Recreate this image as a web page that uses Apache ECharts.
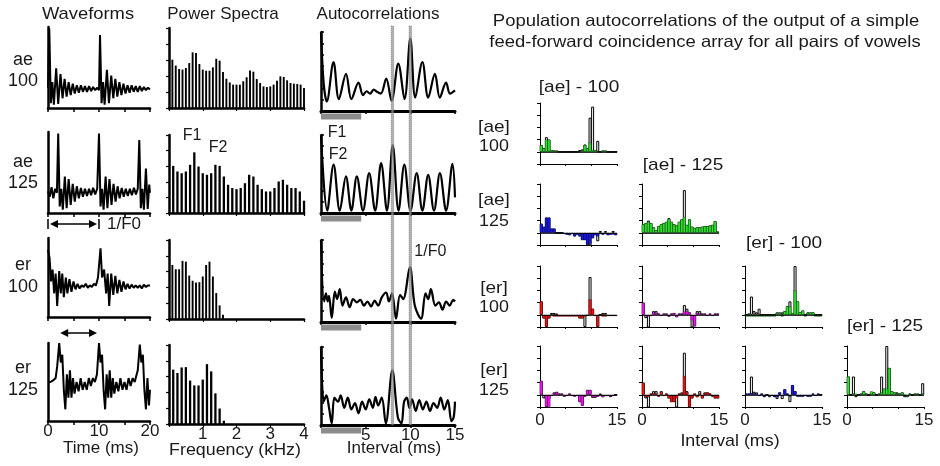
<!DOCTYPE html>
<html>
<head>
<meta charset="utf-8">
<script src="https://cdn.jsdelivr.net/npm/echarts@6/dist/echarts.min.js"></script>
<style>
html,body{margin:0;padding:0;background:#fff}
#main{width:940px;height:466px}
</style>
</head>
<body>
<div id="main"></div>
<script>
// ---------- data ----------
var rowVowels = ['ae', 'ae', 'er', 'er'];
var rowF0 = [100, 125, 100, 125];

// waveforms: [time ms, amplitude 0..1]
var wave_ae100 = [[0,0.25],[0.25,0.98],[0.55,0.06],[0.85,0.32],[1.15,0.04],[1.6,0.49],[2.0,0.05],[2.45,0.42],[2.85,0.12],[3.25,0.36],[3.65,0.14],[4.05,0.32],[4.45,0.16],[4.85,0.3],[5.25,0.18],[5.65,0.28],[6.05,0.19],[6.45,0.28],[6.85,0.2],[7.25,0.27],[7.65,0.2],[8.05,0.27],[8.45,0.21],[8.85,0.26],[9.25,0.22],[9.65,0.25],[10.0,0.22],[10.2,0.9],[10.5,0.06],[10.8,0.32],[11.1,0.04],[11.55,0.47],[11.95,0.06],[12.4,0.4],[12.8,0.12],[13.2,0.36],[13.6,0.14],[14.0,0.32],[14.4,0.16],[14.8,0.3],[15.2,0.18],[15.6,0.28],[16.0,0.19],[16.4,0.28],[16.8,0.2],[17.2,0.27],[17.6,0.2],[18.0,0.27],[18.4,0.21],[18.8,0.26],[19.2,0.22],[19.6,0.25],[20,0.23]];
var wave_ae125 = [[0,0.27],[0.35,0.2],[0.7,0.32],[1.05,0.18],[1.4,0.3],[1.75,0.25],[2.0,0.98],[2.3,0.08],[2.6,0.3],[2.9,0.04],[3.3,0.45],[3.65,0.06],[4.05,0.42],[4.45,0.1],[4.85,0.36],[5.25,0.14],[5.65,0.33],[6.05,0.18],[6.45,0.31],[6.85,0.2],[7.25,0.3],[7.65,0.21],[8.05,0.3],[8.45,0.22],[8.85,0.31],[9.25,0.23],[9.65,0.3],[10.0,0.98],[10.3,0.08],[10.6,0.3],[10.9,0.04],[11.3,0.45],[11.65,0.06],[12.05,0.42],[12.45,0.1],[12.85,0.36],[13.25,0.14],[13.65,0.33],[14.05,0.18],[14.45,0.31],[14.85,0.2],[15.25,0.3],[15.65,0.21],[16.05,0.3],[16.45,0.22],[16.85,0.31],[17.25,0.23],[17.6,0.3],[17.9,0.9],[18.2,0.06],[18.5,0.3],[18.8,0.04],[19.2,0.55],[19.55,0.05],[19.85,0.35],[20,0.25]];
var wave_er100 = [[0,0.85],[0.3,0.75],[0.6,0.45],[0.9,0.6],[1.2,0.3],[1.5,0.55],[1.8,0.14],[2.2,0.58],[2.5,0.3],[2.8,0.55],[3.1,0.25],[3.5,0.5],[3.8,0.3],[4.2,0.48],[4.6,0.32],[5.0,0.45],[5.4,0.35],[5.8,0.42],[6.2,0.36],[6.6,0.4],[7.0,0.38],[7.4,0.42],[7.8,0.37],[8.2,0.4],[8.6,0.38],[9.0,0.42],[9.4,0.4],[9.8,0.5],[10.3,0.87],[10.6,0.5],[11.0,0.6],[11.4,0.3],[11.7,0.55],[12.0,0.14],[12.4,0.55],[12.8,0.28],[13.2,0.52],[13.6,0.3],[14.0,0.47],[14.4,0.32],[14.8,0.45],[15.2,0.35],[15.6,0.42],[16.0,0.36],[16.4,0.41],[16.8,0.37],[17.2,0.4],[17.6,0.37],[18.0,0.4],[18.4,0.36],[18.8,0.41],[19.2,0.38],[19.6,0.4],[20,0.4]];
var wave_er125 = [[0,0.5],[0.5,0.5],[1.0,0.52],[1.5,0.55],[1.8,0.7],[2.2,1.0],[2.5,0.75],[2.8,0.85],[3.1,0.4],[3.4,0.15],[3.7,0.6],[4.0,0.3],[4.3,0.65],[4.6,0.3],[4.9,0.55],[5.2,0.35],[5.6,0.5],[6.0,0.38],[6.4,0.55],[6.8,0.4],[7.2,0.5],[7.6,0.4],[8.0,0.55],[8.4,0.45],[8.8,0.55],[9.2,0.5],[9.6,0.6],[10.0,1.0],[10.3,0.75],[10.6,0.85],[10.9,0.4],[11.2,0.15],[11.5,0.6],[11.8,0.3],[12.1,0.65],[12.4,0.3],[12.7,0.55],[13.0,0.35],[13.4,0.5],[13.8,0.38],[14.2,0.55],[14.6,0.4],[15.0,0.5],[15.4,0.4],[15.8,0.55],[16.2,0.45],[16.6,0.55],[17.0,0.5],[17.6,0.65],[18.0,0.98],[18.3,0.75],[18.6,0.85],[18.9,0.4],[19.2,0.15],[19.5,0.55],[19.8,0.2],[20,0.4]];

// power spectra: level of each harmonic (k = 1, 2, ...)
var spec_ae100 = [30.2,26.5,24.4,24,25,28.1,34.8,34.4,27.5,24,23.3,23.3,25.4,30.8,29.6,22.5,18.3,16,14.6,14.6,14.6,16.7,19.2,23.5,22.7,18.1,15.6,13.5,13.1,13.5,14.6,17.1,19.8,19.4,17.3,15.6,15.2,15,14.6,12.5];
var spec_ae125 = [30.2,26.6,25.5,26.6,30.9,38.9,29.8,25.5,24.5,25.5,30.9,30.2,23.4,18.1,16,15.3,16,19.1,24.5,23.4,18.1,15.3,13.8,13.8,16,20.2,21.3,18.1,16,16,13.8,7.9];
var spec_er100 = [34.2,31.5,31.5,36.8,36.3,27.5,24.2,23.1,23.3,26.9,34.2,36.3,26.9,16.4,8.6,2.7];
var spec_er125 = [34.4,32.3,35.8,36,27.5,24.4,24.4,28.1,37.9,33.3,19.4,9.8,2.1];

// autocorrelations: [lag ms, value 0..1]
var ac_ae100 = [[0,1.0],[0.3,0.35],[0.65,0.12],[1.4,0.62],[2.0,0.15],[2.8,0.47],[3.4,0.15],[4.2,0.36],[4.7,0.2],[5.1,0.25],[5.5,0.22],[5.9,0.27],[6.3,0.24],[6.7,0.22],[7.3,0.41],[7.9,0.13],[8.65,0.6],[9.35,0.15],[10.0,0.92],[10.55,0.17],[11.35,0.62],[12.0,0.17],[12.75,0.47],[13.3,0.17],[14.0,0.36],[14.45,0.22],[15,0.26]];
var ac_ae125 = [[0,1.0],[0.7,0.03],[1.41,0.62],[2.1,0.03],[2.79,0.47],[3.4,0.03],[4.01,0.47],[4.7,0.03],[5.39,0.51],[6.06,0.03],[6.73,0.64],[7.38,0.03],[8.03,0.87],[8.68,0.03],[9.33,0.62],[10.02,0.03],[10.71,0.51],[11.35,0.03],[12.0,0.49],[12.65,0.03],[13.31,0.51],[14.0,0.03],[14.72,0.63],[15,0.2]];
var ac_er100 = [[0,1.0],[0.35,0.25],[0.55,0.35],[0.75,0.25],[0.9,0.32],[1.2,0.05],[1.55,0.37],[1.8,0.28],[2.1,0.4],[2.4,0.2],[2.8,0.3],[3.2,0.18],[3.6,0.28],[4.0,0.24],[4.4,0.27],[4.8,0.2],[5.2,0.25],[5.6,0.19],[6.0,0.26],[6.4,0.2],[6.8,0.3],[7.3,0.36],[7.6,0.25],[7.95,0.35],[8.4,0.04],[8.85,0.33],[9.2,0.28],[9.95,0.67],[10.5,0.2],[11.2,0.04],[11.7,0.35],[12.0,0.28],[12.3,0.4],[12.8,0.2],[13.2,0.24],[13.6,0.15],[14.0,0.25],[14.4,0.2],[14.8,0.27],[15,0.25]];
var ac_er125 = [[0,1.0],[0.3,0.3],[0.6,0.38],[0.9,0.22],[1.2,0.02],[1.5,0.35],[1.9,0.3],[2.2,0.38],[2.6,0.22],[3.0,0.35],[3.4,0.2],[3.8,0.28],[4.2,0.15],[4.6,0.3],[5.0,0.2],[5.4,0.33],[5.8,0.22],[6.1,0.36],[6.4,0.25],[6.8,0.35],[7.25,0.02],[7.98,0.7],[8.6,0.1],[9.0,0.02],[9.3,0.3],[9.6,0.35],[9.9,0.22],[10.2,0.33],[10.6,0.18],[11.0,0.32],[11.4,0.2],[11.8,0.3],[12.2,0.18],[12.6,0.28],[13.0,0.22],[13.4,0.35],[13.8,0.2],[14.2,0.32],[14.6,0.05],[14.85,0.1],[15,0.3]];

var markedLags = [8, 10];      // 1/F0 of 125 Hz and 100 Hz
var shadedLags = [0, 4.5];

// population histograms, 0.5 ms bins from 0 to 15 ms
var binWidthMs = 0.5;
var h_ae100_ae100 = [0.55,0.28,1.0,1.0,0.15,0.1,0.1,0,0,0,0,0,0,0,0,0,0.1,0.55,0.3,0.75,0.15,0.15,0,0,0.1,0.1,0,0,0,0];
var h_ae100_ae100_all = [0.55,0.3,1.2,1.0,0.15,0.1,0.1,0,0,0,0,0,0,0,0,0.15,0.2,0.6,0.3,2.8,3.7,0.15,0.9,0,0.1,0.1,0,0,0,0];
var h_ae125_ae100 = [0.75,0.5,1.25,1.25,0.35,0.35,0,0,0,-0.1,-0.15,-0.2,-0.1,-0.3,-0.15,-0.3,-0.6,-0.6,-1.0,-0.9,-0.45,-0.2,-0.3,-0.1,-0.15,-0.1,-0.2,-0.15,-0.15,-0.2];
var h_ae125_ae100_all = [0.75,0.5,1.25,1.25,0.35,0.35,0,0,0,-0.1,-0.15,-0.2,-0.1,-0.3,-0.15,-0.3,-0.6,-0.6,-1.0,-1.35,-0.45,-0.2,-0.7,0.15,-0.15,0.15,-0.2,-0.15,0.15,-0.2];
var h_er100_ae100 = [1.1,-0.3,-1.0,-0.3,0,-0.15,-0.15,-0.15,-0.15,-0.15,-0.15,-0.15,-0.15,-0.15,-0.15,-0.3,-0.3,-0.15,0,1.27,0.5,-0.1,-1.0,0,-0.15,-0.15,-0.1,-0.1,-0.1,-0.1];
var h_er100_ae100_all = [1.1,-0.3,-1.0,-0.3,0.15,0.15,0.1,-0.1,-0.1,-0.1,-0.1,-0.1,-0.1,-0.1,-0.1,-0.3,-0.3,-1.0,-0.1,3.1,0.5,-0.1,-1.0,0,0.15,0.15,-0.1,-0.1,-0.1,-0.1];
var h_er125_ae100 = [1.15,-0.1,-1.0,-1.0,-0.1,0.15,0.2,0.1,0.1,-0.15,-0.1,0.1,-0.1,-0.15,-0.1,-0.6,-0.9,-0.15,0.4,0.4,-0.2,-0.2,-0.15,0,-0.2,-0.1,-0.1,-0.15,-0.1,0];
var h_er125_ae100_all = [1.15,-0.3,-1.0,-0.4,-0.1,0.2,0.25,0.1,0.1,-0.15,-0.1,0.1,-0.1,-0.15,-0.1,-0.6,-0.9,-0.15,0.4,0.4,-0.25,-0.25,-0.15,0.1,-0.2,-0.1,-0.1,-0.2,-0.1,0];
var h_ae125_ae125 = [0.7,0.8,0.9,0.8,0.45,0.2,0.55,0.7,0.8,0.9,1.15,0.9,0.7,0.6,0.9,1.1,1.3,0.65,1.1,0.5,0.4,0.45,0.45,0.5,0.55,0.55,0.6,0.65,0.95,0.1];
var h_ae125_ae125_all = [0.7,0.8,1.0,0.8,0.45,0.2,0.55,0.7,0.8,0.9,1.2,0.9,0.7,0.6,0.9,1.1,3.5,0.65,1.1,0.5,0.4,0.45,0.45,0.5,0.55,0.55,0.6,0.65,0.95,0.1];
var h_er100_ae125 = [1.0,-0.1,-0.15,-0.1,0.2,0.15,0.1,-0.1,0.1,0.1,-0.15,0.1,0.15,-0.2,0.1,0.1,0.27,0.3,0.2,-0.45,-0.95,0.15,0.1,0.1,0.1,-0.1,0.1,-0.1,0.1,0.1];
var h_er100_ae125_all = [1.0,-0.27,-1.4,-0.1,0.3,0.3,0.1,-0.1,0.1,0.1,-0.15,0.1,0.15,-0.2,0.1,0.1,0.8,0.5,0.2,-1.15,-0.95,0.3,0.3,0.1,0.1,-0.1,0.1,-0.1,0.1,0.1];
var h_er125_ae125 = [1.0,-0.2,-0.2,0.1,0.15,0.1,-0.15,0.2,-0.1,0.1,-0.3,-0.6,-0.6,-0.3,0.1,0.1,1.55,0.2,-1.0,-0.3,0.1,-0.2,0.1,-0.3,0.15,0.2,0.1,-0.15,-0.3,-0.3];
var h_er125_ae125_all = [1.0,-0.3,-1.1,0.1,0.3,0.3,-0.15,0.3,-0.1,0.1,-0.3,-0.6,-0.6,-1.2,0.1,0.2,3.45,0.3,-1.0,-0.3,0.1,-0.2,0.3,-0.3,0.2,0.2,0.1,-0.15,-0.3,-0.3];
var h_er100_er100 = [-0.15,-0.15,-0.15,-0.15,-0.15,-0.15,-0.15,-0.15,-0.15,-0.15,-0.15,-0.15,0.15,0.15,-0.15,0.3,0.7,0.7,0.15,2.0,1.1,0.2,0.35,-0.15,0.15,0.2,0.2,-0.15,-0.15,-0.15];
var h_er100_er100_all = [0,0.1,1.5,0.3,0.2,0.5,0,0,0,0,0,0,0.2,0.2,0.2,0.3,0.7,1.1,0.15,4.0,1.1,0.2,0.35,0,0.2,0.2,0.2,0,0,0];
var h_er125_er100 = [0.1,0.1,0.15,0.1,0.1,-0.1,0.1,-0.15,0,-0.1,-0.1,-0.15,-0.2,0.2,-0.1,0.45,0.1,-0.15,0.8,0.3,-0.15,-0.15,-0.15,-0.1,-0.15,-0.15,0.1,-0.1,0.1,0];
var h_er125_er100_all = [0.1,0.1,1.5,0.25,0.2,-0.1,0.1,-0.2,0,-0.2,-0.1,-0.2,-0.35,0.2,-0.35,0.45,0.1,-0.6,0.8,0.3,-0.15,-0.15,-0.15,-0.1,-0.15,-0.15,0.1,-0.1,0.1,0];
var h_er125_er125 = [1.5,0,0.1,0.1,0,0.1,0.3,0.1,0,0.3,0.2,0,0.1,0.2,0.5,0.5,2.2,0.3,0.2,0.1,0.1,0.2,0,-0.15,0.1,0,0.1,0.1,0,0.1];
var h_er125_er125_all = [1.5,0,1.5,-0.2,0,0.1,0.3,0.1,0,0.2,0.2,0,0.1,1.5,0.5,4.0,2.2,0.3,0.2,0.2,0.1,0.2,-0.2,-0.2,0.1,0,0.1,0.1,0,0.95];

// [row, column, coloured part, all, colour]
var histPanels = [
  [0, 0, h_ae100_ae100, h_ae100_ae100_all, '#2fe02f'],
  [1, 0, h_ae125_ae100, h_ae125_ae100_all, '#1818e6'],
  [2, 0, h_er100_ae100, h_er100_ae100_all, '#f01010'],
  [3, 0, h_er125_ae100, h_er125_ae100_all, '#f014f0'],
  [1, 1, h_ae125_ae125, h_ae125_ae125_all, '#2fe02f'],
  [2, 1, h_er100_ae125, h_er100_ae125_all, '#f014f0'],
  [3, 1, h_er125_ae125, h_er125_ae125_all, '#f01010'],
  [2, 2, h_er100_er100, h_er100_er100_all, '#2fe02f'],
  [3, 2, h_er125_er100, h_er125_er100_all, '#1818e6'],
  [3, 3, h_er125_er125, h_er125_er125_all, '#2fe02f']
];

// ---------- layout ----------
var FONT = 'Arial, "Liberation Sans", Helvetica, sans-serif';
var INK = '#1a1a1a';
var waveBox = {left: 48, width: 102, rows: [[27,108],[132,213],[238,317],[343,421]]};
var specBox = {left: 169, width: 135, rows: [[28,108],[135,213],[240,319],[345,424]]};
var acBox = {left: 321, width: 134, rows: [[32,111],[135,213],[240,322],[347,425]]};
var histLeft = [540, 642, 745, 847], histTop = [103, 184, 266, 346], histW = 77, histH = 61;

var chart = echarts.init(document.getElementById('main'));
var grids = [], xAxes = [], yAxes = [], series = [];

function addGrid(box, xa, ya) {
  var k = grids.length;
  grids.push(box);
  xa.gridIndex = k; ya.gridIndex = k;
  xa.type = 'value'; ya.type = 'value';
  xa.splitLine = {show: false}; ya.splitLine = {show: false};
  xAxes.push(xa); yAxes.push(ya);
  return k;
}
function heavy(w) { return {show: true, onZero: false, lineStyle: {color: '#000', width: w}}; }
function lbl(show, fmt, margin) {
  return {show: show, color: INK, fontSize: 17, fontFamily: FONT, margin: margin, formatter: fmt};
}

var waveSets = [wave_ae100, wave_ae125, wave_er100, wave_er125];
var specSets = [spec_ae100, spec_ae125, spec_er100, spec_er125];
var acSets = [ac_ae100, ac_ae125, ac_er100, ac_er125];
var waveGrid = [], acGrid = [];

for (var r = 0; r < 4; r++) {
  var last = r === 3;
  // waveform
  var rw = waveBox.rows[r];
  var k = addGrid({left: waveBox.left, top: rw[0], width: waveBox.width, height: rw[1] - rw[0]},
    {min: 0, max: 20, interval: 5, axisLine: heavy(2.5),
     axisTick: {show: true, length: 4, lineStyle: {color: '#000', width: 1.5}},
     axisLabel: lbl(last, function (v) { return v % 10 === 0 ? v : ''; }, 2)},
    {min: 0, max: 1, axisLine: heavy(2.5), axisTick: {show: false}, axisLabel: {show: false}});
  waveGrid.push(k);
  series.push({type: 'line', xAxisIndex: k, yAxisIndex: k, data: waveSets[r], showSymbol: false,
    lineStyle: {color: '#000', width: 2}, silent: true});

  // spectrum
  var rs = specBox.rows[r];
  k = addGrid({left: specBox.left, top: rs[0], width: specBox.width, height: rs[1] - rs[0]},
    {min: 0, max: 4, interval: 1, axisLine: heavy(2.5),
     axisTick: {show: true, length: 3, lineStyle: {color: '#000', width: 1.2}},
     axisLabel: lbl(last, function (v) { return v === 0 ? '' : v; }, 2)},
    {min: 0, max: 50, interval: 10, axisLine: heavy(2.5),
     axisTick: {show: true, length: 3, lineStyle: {color: '#000', width: 1.2}}, axisLabel: {show: false}});
  var f0 = rowF0[r];
  series.push({type: 'bar', xAxisIndex: k, yAxisIndex: k, barWidth: f0 === 100 ? 1.9 : 2.3,
    itemStyle: {color: '#000'}, silent: true,
    data: specSets[r].map(function (v, i) { return [(i + 1) * f0 / 1000, v]; })});

  // autocorrelation
  var ra = acBox.rows[r];
  k = addGrid({left: acBox.left, top: ra[0], width: acBox.width, height: ra[1] - ra[0]},
    {min: 0, max: 15, interval: 5, axisLine: heavy(3),
     axisTick: {show: true, length: 3, lineStyle: {color: '#000', width: 1.5}},
     axisLabel: lbl(last, function (v) { return v === 0 ? '' : v; }, 2)},
    {min: 0, max: 1, interval: 1 / 7, axisLine: heavy(2.5),
     axisTick: {show: true, inside: true, length: 3, lineStyle: {color: '#000', width: 1.5}}, axisLabel: {show: false}});
  acGrid.push(k);
  series.push({type: 'line', xAxisIndex: k, yAxisIndex: k, data: acSets[r], showSymbol: false, smooth: 0.35,
    lineStyle: {color: '#000', width: 2.2}, silent: true});
}

var binCenters = h_ae100_ae100.map(function (v, i) { return binWidthMs * (i + 0.5); });
histPanels.forEach(function (p) {
  var bottom = p[0] === 3;
  var k = addGrid({left: histLeft[p[1]], top: histTop[p[0]], width: histW, height: histH},
    {min: 0, max: 15, interval: 5, axisLine: heavy(1),
     axisTick: {show: true, length: 2, lineStyle: {color: '#000', width: 1}},
     axisLabel: lbl(bottom, function (v) { return (v === 0 || v === 15) ? v : ''; }, 5)},
    {min: -1, max: 4, interval: 1, axisLine: heavy(1),
     axisTick: {show: true, length: 3, lineStyle: {color: '#000', width: 1}}, axisLabel: {show: false}});
  // black outlined histogram underneath, coloured one on top
  series.push({type: 'bar', xAxisIndex: k, yAxisIndex: k, barWidth: 3, barGap: '-100%', silent: true,
    itemStyle: {color: '#fff', borderColor: '#000', borderWidth: 1},
    data: p[3].map(function (v, i) { return [binCenters[i], v]; }),
    markLine: {silent: true, symbol: 'none', label: {show: false},
      lineStyle: {color: '#000', width: 0.8, type: 'solid'}, data: [{yAxis: 0}]}});
  series.push({type: 'bar', xAxisIndex: k, yAxisIndex: k, barWidth: 3, barGap: '-100%', silent: true,
    itemStyle: {color: p[4], borderColor: 'rgba(0,0,0,0.55)', borderWidth: 0.5},
    data: p[2].map(function (v, i) { return [binCenters[i], v]; })});
});

chart.setOption({
  animation: false,
  backgroundColor: '#fff',
  textStyle: {fontFamily: FONT},
  grid: grids, xAxis: xAxes, yAxis: yAxes, series: series
});

// ---------- annotations ----------
function txt(s, x, y, size, align, sx) {
  return {type: 'text', z: 50, x: x, y: y, scaleX: sx || 1,
    style: {text: s, x: 0, y: 0, fill: INK, font: size + 'px ' + FONT,
      align: align || 'center', verticalAlign: 'middle', textAlign: align || 'center', textVerticalAlign: 'middle'}};
}
function px(k, v) { return chart.convertToPixel({gridIndex: k}, v); }
function arrow(x1, x2, y, bars) {
  var st = {stroke: '#000', lineWidth: 1.5};
  var els = [
    {type: 'line', z: 50, shape: {x1: x1 + 6, y1: y, x2: x2 - 6, y2: y}, style: st},
    {type: 'polygon', z: 50, shape: {points: [[x1 + 2, y], [x1 + 10, y - 4], [x1 + 10, y + 4]]}, style: {fill: '#000'}},
    {type: 'polygon', z: 50, shape: {points: [[x2 - 2, y], [x2 - 10, y - 4], [x2 - 10, y + 4]]}, style: {fill: '#000'}}
  ];
  if (bars) {
    els.push({type: 'line', z: 50, shape: {x1: x1, y1: y - 5, x2: x1, y2: y + 5}, style: st});
    els.push({type: 'line', z: 50, shape: {x1: x2, y1: y - 5, x2: x2, y2: y + 5}, style: st});
  }
  return els;
}

var g = [];
g.push(txt('Waveforms', 88, 14, 17, 'center', 1.08));
g.push(txt('Power Spectra', 223, 14, 17));
g.push(txt('Autocorrelations', 378, 14, 17));
var rowLabelY = [[60, 81], [162, 183], [265, 287], [368, 390]];
for (var i = 0; i < 4; i++) {
  g.push(txt(rowVowels[i], 23, rowLabelY[i][0], 18));
  g.push(txt(String(rowF0[i]), 23, rowLabelY[i][1], 18));
}
g.push(txt('Time (ms)', 101, 448, 17));
g.push(txt('Frequency (kHz)', 235, 450, 17, 'center', 1.05));
g.push(txt('Interval (ms)', 394, 448, 17));
g.push(txt('F1', 192, 136, 16));
g.push(txt('F2', 218, 148, 16));
g.push(txt('F1', 337, 133, 16));
g.push(txt('F2', 338, 155, 16));

// 1/F0 arrows on the waveforms
var a0 = px(waveGrid[1], [0, 0]), a1 = px(waveGrid[1], [10, 0]);
g = g.concat(arrow(a0[0], a1[0], a0[1] + 11, true));
g.push(txt('1/F0', a1[0] + 8, a0[1] + 11, 17, 'left'));
var b0 = px(waveGrid[3], [2, 1]), b1 = px(waveGrid[3], [10, 1]);
g = g.concat(arrow(b0[0], b1[0], b0[1] - 10, false));

// shaded lag range under each autocorrelation
acGrid.forEach(function (k) {
  var s0 = px(k, [shadedLags[0], 0]), s1 = px(k, [shadedLags[1], 0]);
  g.push({type: 'rect', z: 40, shape: {x: s0[0], y: s0[1] + 2.5, width: s1[0] - s0[0], height: 6}, style: {fill: '#8c8c8c'}});
});
// marked lags through all autocorrelations
markedLags.forEach(function (lag) {
  var top = px(acGrid[0], [lag, 1]), bot = px(acGrid[3], [lag, 0]);
  g.push({type: 'rect', z: 45, shape: {x: top[0] - 1.2, y: top[1] - 6, width: 2.4, height: bot[1] - top[1] + 6},
    style: {fill: 'rgba(150,150,150,0.75)', stroke: '#555', lineWidth: 0.6, lineDash: [1, 1]}});
});
var f0lab = px(acGrid[2], [10, 1]);
g.push(txt('1/F0', f0lab[0] + 4, f0lab[1] + 12, 16, 'left'));

// right-hand matrix (text in the source is slightly wider than Arial)
var WIDE = 1.12;
g.push(txt('Population autocorrelations of the output of a simple', 706, 21, 16.5, 'center', WIDE));
g.push(txt('feed-forward coincidence array for all pairs of vowels', 705, 42, 16.5, 'center', WIDE));
var colHead = [[579, 87], [683, 165], [784, 243], [885, 326]];
var rowHead = [[127, 146], [200, 221], [288, 307], [370, 390]];
for (i = 0; i < 4; i++) {
  g.push(txt('[' + rowVowels[i] + '] - ' + rowF0[i], colHead[i][0], colHead[i][1], 17, 'center', WIDE));
  g.push(txt('[' + rowVowels[i] + ']', 494, rowHead[i][0], 17, 'center', WIDE));
  g.push(txt(String(rowF0[i]), 494, rowHead[i][1], 17, 'center', 1.05));
}
g.push(txt('Interval (ms)', 730, 441, 17, 'center', 1.05));

chart.setOption({graphic: {elements: g}});
</script>
</body>
</html>
